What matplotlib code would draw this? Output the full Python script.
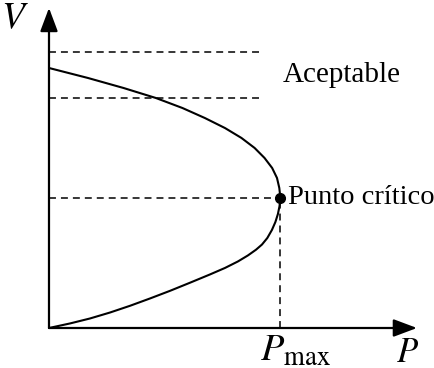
import matplotlib.pyplot as plt

plt.rcParams['mathtext.fontset'] = 'stix'
plt.rcParams['lines.scale_dashes'] = False

# nose curve, P normalised to P_max and V to the critical voltage
p_upper = [0.0, 0.169, 0.323, 0.463, 0.578, 0.675, 0.762, 0.833, 0.890, 0.933,
           0.966, 0.987, 0.997, 0.9994, 1.0]
v_upper = [2.0, 1.923, 1.846, 1.769, 1.692, 1.615, 1.538, 1.462, 1.385, 1.308,
           1.231, 1.154, 1.077, 1.038, 1.0]
p_lower = [0.0, 0.091, 0.177, 0.264, 0.351, 0.437, 0.524, 0.610, 0.697, 0.762,
           0.818, 0.861, 0.896, 0.922, 0.945, 0.965, 0.980, 0.991, 0.998, 0.9994, 1.0]
v_lower = [0.0, 0.035, 0.073, 0.119, 0.171, 0.227, 0.286, 0.348, 0.412, 0.462,
           0.512, 0.558, 0.602, 0.642, 0.692, 0.754, 0.815, 0.877, 0.938, 0.969, 1.0]

# acceptable voltage band and critical point
v_band = [2.123, 1.769]
band_end = 0.922
p_crit, v_crit = 1.0, 1.0

fig = plt.figure(figsize=(4.35, 3.68), dpi=100)
ax = fig.add_axes([0, 0, 1, 1])
ax.set_xlim(-0.2121, 1.671)
ax.set_ylim(-0.3077, 2.523)
ax.axis('off')

serif = 'Liberation Serif'
dash = (0, (5.0, 3.6))

# axes with arrow heads
arrow = dict(arrowstyle='-|>,head_length=0.8,head_width=0.3', color='black',
             lw=1.6, shrinkA=0, shrinkB=0, mutation_scale=18)
ax.annotate('', xy=(1.593, 0), xytext=(0, 0), arrowprops=arrow)
ax.annotate('', xy=(0, 2.462), xytext=(0, 0), arrowprops=arrow)

# band limits and projections of the critical point
for v in v_band:
    ax.plot([0, band_end], [v, v], color='black', lw=1.1, linestyle=dash)
ax.plot([0, p_crit], [v_crit, v_crit], color='black', lw=1.1, linestyle=dash)
ax.plot([p_crit, p_crit], [0, v_crit], color='black', lw=1.1, linestyle=dash)

ax.plot(p_upper, v_upper, color='black', lw=1.5, solid_capstyle='round')
ax.plot(p_lower, v_lower, color='black', lw=1.5, solid_capstyle='round')
ax.plot([p_crit], [v_crit], 'o', color='black', markersize=7)

ax.text(1.013, 1.946, 'Aceptable', family=serif, fontsize=21, va='center', ha='left')
ax.text(1.035, v_crit, 'Punto crítico', family=serif, fontsize=20.5, va='center', ha='left')
ax.text(-0.147, 2.38, '$V$', fontsize=27, ha='center', va='center')
ax.text(1.554, -0.258, '$P$', fontsize=25, ha='center', va='baseline')
ax.text(1.067, -0.175, r'$P_{\rm max}$', fontsize=27.5, ha='center', va='center')

fig.savefig('out.png', dpi=100)
